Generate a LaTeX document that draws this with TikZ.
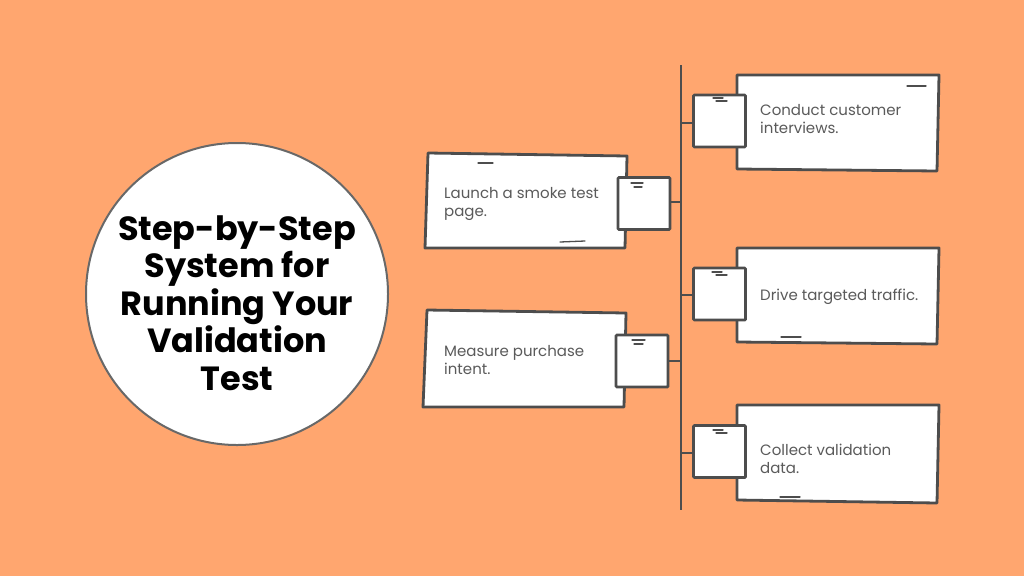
\documentclass[tikz,border=0pt]{standalone}
\usepackage{fontspec}
\setmainfont{Poppins}
\definecolor{bg}{HTML}{FFA66F}
\definecolor{ink}{HTML}{4D4D4D}
\definecolor{txt}{HTML}{5A5A5A}
\begin{document}
\begin{tikzpicture}[x=1pt,y=-1pt,
  boxline/.style={draw=ink,line width=2.8pt,fill=white,line join=round},
  sq/.style={draw=ink,line width=2.8pt,fill=white,rounded corners=1pt,minimum width=52pt,minimum height=52pt,inner sep=0pt},
  link/.style={draw=ink,line width=2.4pt},
  tick/.style={draw=ink,line width=1.3pt,line cap=round},
  label/.style={anchor=west,align=left,text=txt,font=\fontsize{15}{18}\selectfont,inner sep=0pt},
  title/.style={align=center,font=\fontsize{33.5}{37.5}\selectfont\bfseries,text=black}]
\useasboundingbox[fill=bg] (0,0) rectangle (1024,576);

% circle with title
\node[circle,draw=ink!85,line width=2pt,fill=white,minimum size=302pt] (circ) at (237,294) {};
\node[title] (ttl) at (237,303) {Step-by-Step\\System for\\Running Your\\Validation\\Test};

% spine
\coordinate (top) at (681,65);
\coordinate (bot) at (681,510);
\draw[link] (top) -- (bot);

% Box 1 (right, top)
\path[boxline] (737,75) -- (939,75) -- (937,171) -- (737,169) -- cycle;
\draw[tick] (907,86) -- (926,86);
\node[sq] (s1) at (719.5,121) {};
\draw[tick] (713,98) -- (723,98) (716,101) -- (727,101);
\node[label] (t1) at (760,119) {Conduct customer\\interviews.};
\coordinate (j1) at (681,123);
\draw[link] (j1) -- (s1.west |- j1);

% Box 2 (left, top)
\path[boxline] (428,153) -- (627,156) -- (625,248) -- (425,248) -- cycle;
\draw[tick] (478,163) -- (493,163);
\draw[tick] (560,242) -- (585,241);
\node[sq] (s2) at (644,203.5) {};
\draw[tick] (631,183) -- (643,183) (634,187) -- (642,187);
\node[label] (t2) at (444,203.5) {Launch a smoke test\\page.};
\coordinate (j2) at (681,202);
\draw[link] (s2.east |- j2) -- (j2);

% Box 3 (right, middle)
\path[boxline] (737,248) -- (939,248) -- (937,344) -- (737,342) -- cycle;
\draw[tick] (781,337) -- (801,337);
\node[sq] (s3) at (719.5,294) {};
\draw[tick] (712,272) -- (722,272) (716,275) -- (727,275);
\node[label] (t3) at (760,297) {Drive targeted traffic.};
\coordinate (j3) at (681,295);
\draw[link] (j3) -- (s3.west |- j3);

% Box 4 (left, bottom)
\path[boxline] (427,310) -- (626,313) -- (624,407) -- (423,407) -- cycle;
\node[sq] (s4) at (642,361) {};
\draw[tick] (632,340) -- (645,340) (634,344) -- (643,344);
\node[label] (t4) at (444,360) {Measure purchase\\intent.};
\coordinate (j4) at (681,361);
\draw[link] (s4.east |- j4) -- (j4);

% Box 5 (right, bottom)
\path[boxline] (737,405) -- (939,405) -- (937,503) -- (737,500) -- cycle;
\draw[tick] (780,497) -- (800,497);
\node[sq] (s5) at (719.5,451.5) {};
\draw[tick] (713,430) -- (723,430) (716,433) -- (727,433);
\node[label] (t5) at (760,459) {Collect validation\\data.};
\coordinate (j5) at (681,453);
\draw[link] (j5) -- (s5.west |- j5);
\end{tikzpicture}
\end{document}
